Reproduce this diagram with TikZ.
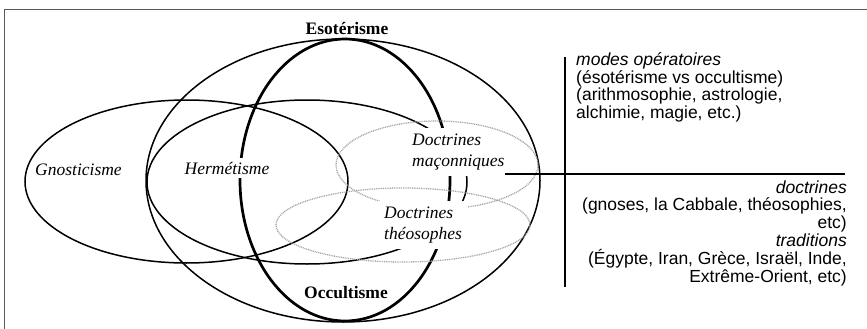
\documentclass[tikz,border=0pt]{standalone}
\usepackage{fontspec}
\setmainfont{Liberation Serif}
\setsansfont{Liberation Sans}
\usepackage{tikz}

\tikzset{
    ring/.style={line width=1.5pt},
    boldring/.style={line width=2.7pt},
    dotring/.style={gray!70, line width=1.3pt, dash pattern=on 1pt off 0.8pt},
    lbl/.style={font=\fontsize{17.5}{21}\selectfont\itshape},
    ttl/.style={font=\fontsize{17.5}{21}\selectfont\bfseries},
    note/.style={font=\fontsize{17.5}{17.8}\selectfont\sffamily, inner sep=0pt},
    mask/.style={fill=white, inner xsep=4pt, inner ysep=6pt}
}

\begin{document}
\begin{tikzpicture}[x=1pt, y=-1pt]
        \useasboundingbox (0, 0) rectangle (867, 329);
        \draw [black!65, line width=1pt] (4.5, 329) -- (4.5, 9.5) -- (867, 9.5);

        \draw [ring] (186.5, 181.5) ellipse (161.5 and 81.5);
        \draw [ring] (307, 182) ellipse (160 and 82);
        \draw [ring] (343, 180.5) ellipse (197 and 141.5);
        \draw [boldring] (345, 180) ellipse (105 and 141);

        \node [ttl, anchor=base] (esot) at (347, 35) {Esotérisme};
        \node [ttl, anchor=base] (occult) at (346, 298) {Occultisme};
        \node [lbl, anchor=base] (gnost) at (78.5, 175) {Gnosticisme};
        \node [lbl, mask, inner ysep=4pt, anchor=base] (hermet) at (227, 174) {Hermétisme};
        \node [lbl, mask, align=left, anchor=north west] (macon) at (408, 127.5) {Doctrines\\maçonniques};

        \draw [dotring] (437, 165) ellipse (101 and 44);
        \draw [dotring] (403, 225) ellipse (127 and 37);

        \node [lbl, mask, inner xsep=6pt, align=left, anchor=north west] (theos) at (378, 200.5) {Doctrines\\théosophes};

        \draw [line width=1.4pt] (565, 57) -- (565, 287);
        \draw [line width=1.4pt] (505, 174) -- (845, 174);

        \node [note, align=left, anchor=north west] (modes) at (576, 52.3) {\textit{modes opératoires}\\(ésotérisme vs occultisme)\\(arithmosophie, astrologie,\\alchimie, magie, etc.)};
        \node [note, align=right, anchor=north east] (doctr) at (847, 180.3) {\textit{doctrines}\\(gnoses, la Cabbale, théosophies,\\etc)\\\textit{traditions}\\(Égypte, Iran, Grèce, Israël, Inde,\\Extrême-Orient, etc)};
    \end{tikzpicture}
\end{document}
